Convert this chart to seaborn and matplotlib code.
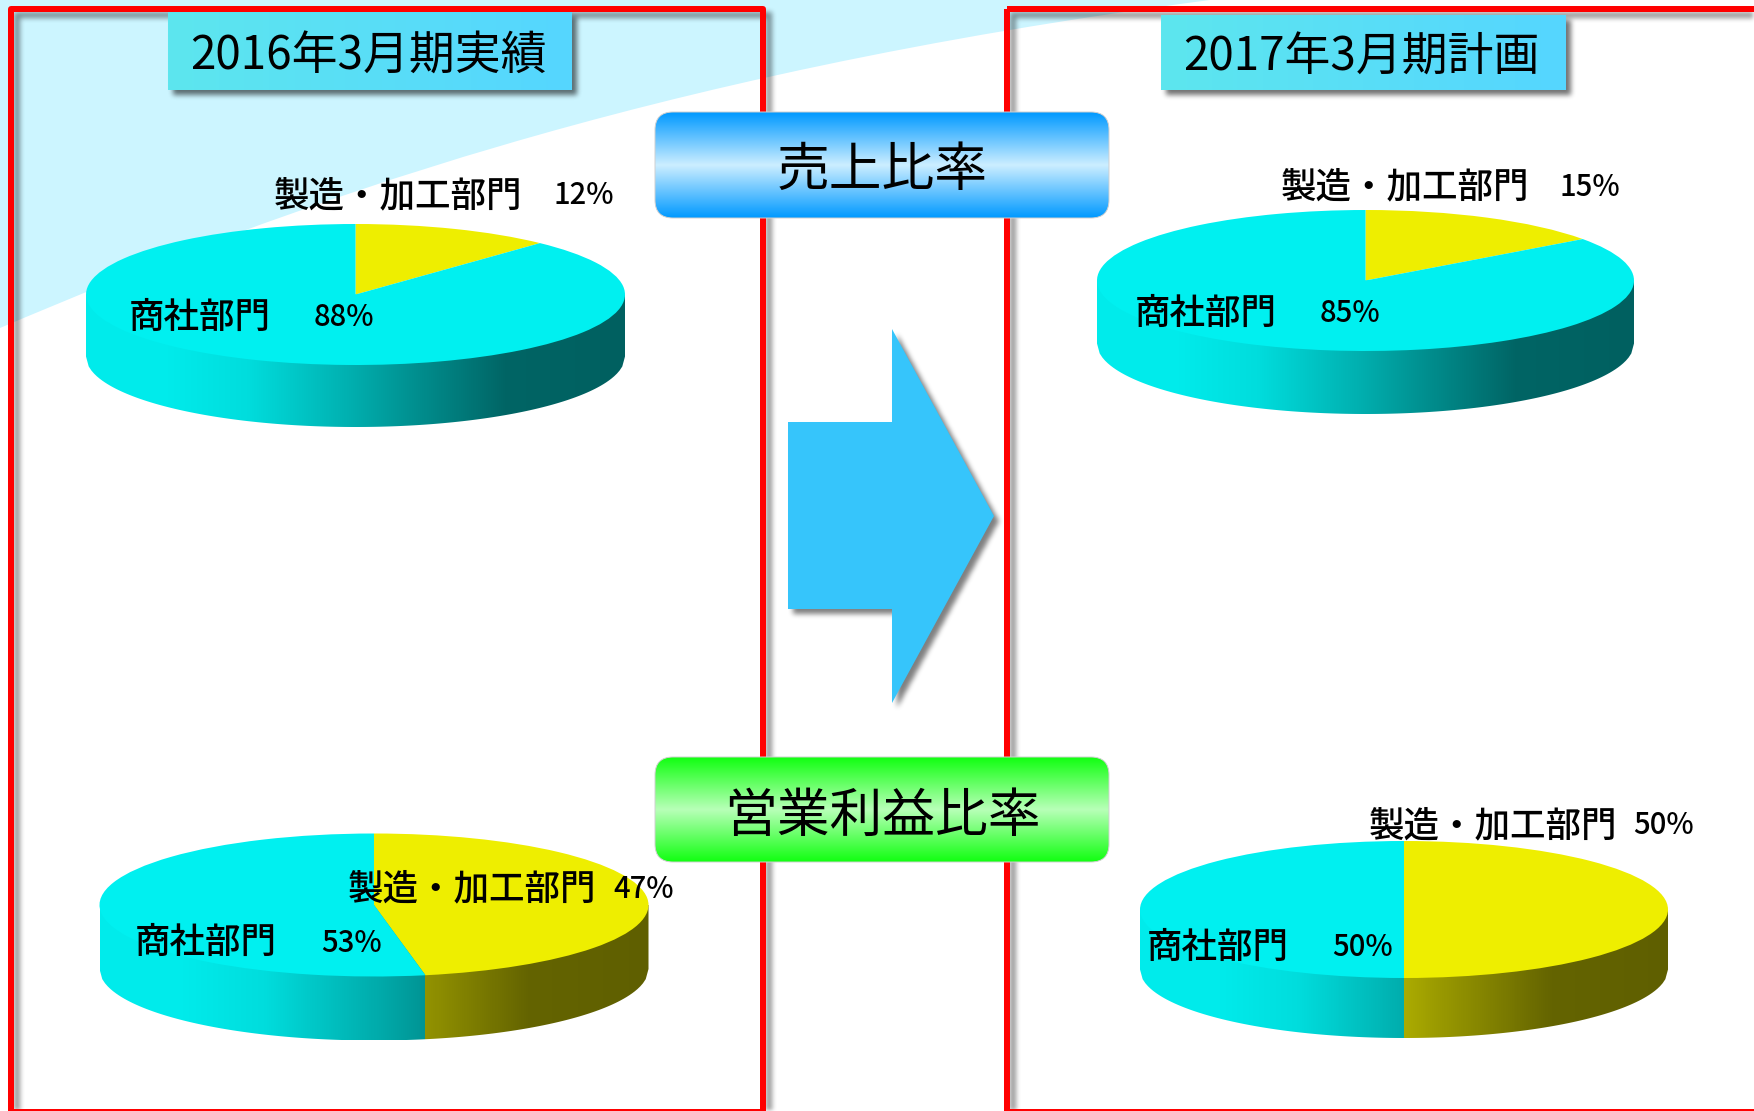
#!/usr/bin/env python3
# -*- coding: utf-8 -*-
"""売上比率 / 営業利益比率 の比較 (2016年3月期実績 -> 2017年3月期計画)"""

import numpy as np
import matplotlib
matplotlib.use("Agg")
import matplotlib.pyplot as plt
import seaborn as sns
from matplotlib.colors import to_rgb
from matplotlib.path import Path
from matplotlib.patches import PathPatch, FancyBboxPatch, Polygon

# --- Daten ---
periods = ["2016年3月期実績", "2017年3月期計画"]
metrics = ["売上比率", "営業利益比率"]
segments = ["製造・加工部門", "商社部門"]

sales_manufacturing = [12, 15]
sales_trading = [88, 85]
profit_manufacturing = [47, 50]
profit_trading = [53, 50]

W, H = 1754, 1111
CJK = ["Noto Sans CJK JP", "DejaVu Sans"]

# --- Layout (Pixel im Bild) ---
# Torten: cx, cy, a, b, Tiefe
PIE_BOXES = [
    (355.5, 294.5, 269.5, 70.5, 62),
    (1365.5, 280.5, 268.5, 70.5, 63),
    (374.0, 905.0, 274.5, 71.5, 64),
    (1404.0, 909.5, 264.0, 68.5, 60),
]
# Beschriftung: Name x, Prozent x, y jeweils für Segment 0 und 1
LABEL_POS = [
    ((274, 553, 196), (129, 314, 318)),
    ((1281, 1559, 187), (1135, 1320, 314)),
    ((348, 613, 889), (135, 321, 943)),
    ((1369, 1633, 826), (1147, 1332, 948)),
]
CYAN = "#00F0F0"
YELLOW = "#EEEE00"
SIDE_T = [0.0, 0.15, 0.30, 0.50, 0.59, 0.78, 1.0]
SIDE_F = [0.98, 0.98, 0.92, 0.72, 0.62, 0.42, 0.40]


def box_blur(mask, size=5, passes=3):
    """Einfacher Weichzeichner, ohne scipy."""
    kernel = np.ones(size) / size
    out = mask.astype(float)
    for _ in range(passes):
        out = np.apply_along_axis(lambda r: np.convolve(r, kernel, mode="same"), 0, out)
        out = np.apply_along_axis(lambda r: np.convolve(r, kernel, mode="same"), 1, out)
    return out


def soft_shadow(ax, polys, dx=5, dy=5, alpha=0.45):
    """Schatten aus einem oder mehreren Polygonen (XOR), gerastert und geglättet."""
    all_pts = np.vstack(polys)
    x0 = int(max(all_pts[:, 0].min() + dx - 16, 0))
    x1 = int(min(all_pts[:, 0].max() + dx + 16, W))
    y0 = int(max(all_pts[:, 1].min() + dy - 16, 0))
    y1 = int(min(all_pts[:, 1].max() + dy + 16, H))
    xx, yy = np.meshgrid(np.arange(x0, x1) + 0.5, np.arange(y0, y1) + 0.5)
    grid = np.c_[xx.ravel(), yy.ravel()]
    mask = np.zeros(xx.shape, dtype=bool)
    for poly in polys:
        inside = Path(np.asarray(poly) + [dx, dy]).contains_points(grid).reshape(xx.shape)
        mask ^= inside
    blurred = box_blur(mask)
    rgba = np.zeros(mask.shape + (4,))
    rgba[..., 3] = blurred * alpha
    ax.imshow(rgba, extent=(x0, x1, y1, y0), aspect="auto", zorder=2, interpolation="bilinear")
    ax.set_xlim(0, W)
    ax.set_ylim(H, 0)


def gradient(ax, extent, colors, clip, vertical=False, zorder=4):
    cmap = sns.blend_palette(colors, as_cmap=True)
    grad = np.linspace(0, 1, 256)
    grad = grad[:, None] if vertical else grad[None, :]
    im = ax.imshow(grad, extent=extent, cmap=cmap, aspect="auto", zorder=zorder,
                   interpolation="bilinear", vmin=0, vmax=1)
    im.set_clip_path(clip)
    ax.set_xlim(0, W)
    ax.set_ylim(H, 0)


def draw_background(ax):
    # hellblaue Fläche oben links
    verts = [(0, 0), (0, 328), (290, 205), (640, 75), (1210, 0), (0, 0)]
    codes = [Path.MOVETO, Path.LINETO, Path.CURVE4, Path.CURVE4, Path.CURVE4, Path.CLOSEPOLY]
    ax.add_patch(PathPatch(Path(verts, codes), fc="#CCF5FF", ec="none", zorder=1))


def draw_frame(ax, x0, x1, y0=9, y1=1112):
    corners = [(x0, y0), (x1, y0), (x1, y1), (x0, y1)]
    lw = 3
    outer = np.array([(x0 - lw, y0 - lw), (x1 + lw, y0 - lw), (x1 + lw, y1 + lw), (x0 - lw, y1 + lw)])
    inner = np.array([(x0 + lw, y0 + lw), (x1 - lw, y0 + lw), (x1 - lw, y1 - lw), (x0 + lw, y1 - lw)])
    soft_shadow(ax, [outer, inner], dx=6, dy=6, alpha=0.42)
    ax.add_patch(Polygon(corners, closed=True, fill=False, ec="#FF0000", lw=6 * 0.72,
                         joinstyle="round", zorder=3))


def draw_header(ax, text, x0, x1, y0, y1):
    corners = np.array([(x0, y0), (x1, y0), (x1, y1), (x0, y1)])
    soft_shadow(ax, [corners], dx=5, dy=5, alpha=0.55)
    box = Polygon(corners, closed=True, fc="none", ec="none", zorder=4)
    ax.add_patch(box)
    gradient(ax, (x0, x1, y1, y0), ["#5DE6EE", "#55D6FF"], box)
    ax.text((x0 + x1) / 2 - 2, (y0 + y1) / 2 + 5, text, family=CJK, fontsize=33, color="black",
            ha="center", va="center", zorder=6)


def draw_banner(ax, text, x0, x1, y0, y1, edge, mid, dy=5):
    r = 18
    box = FancyBboxPatch((x0 + r, y0 + r), x1 - x0 - 2 * r, y1 - y0 - 2 * r,
                         boxstyle=f"round,pad={r},rounding_size={r}",
                         fc="none", ec="#D0D0D0", lw=0.7, zorder=5)
    ax.add_patch(box)
    gradient(ax, (x0, x1, y1, y0), [edge, mid, edge], box, vertical=True, zorder=4)
    ax.text((x0 + x1) / 2, (y0 + y1) / 2 + 2 + dy, text, family=CJK, fontsize=38, color="black",
            ha="center", va="center", zorder=6)


def draw_arrow(ax):
    pts = np.array([(788, 422), (892, 422), (892, 329), (994, 516), (892, 703), (892, 609), (788, 609)])
    soft_shadow(ax, [pts], dx=5, dy=5, alpha=0.5)
    ax.add_patch(Polygon(pts, closed=True, fc="#36C5FB", ec="none", zorder=4))


def draw_pie(fig, box, shares):
    cx, cy, a, b, depth = box
    d = depth / b
    left = (cx - a) / W
    bottom = 1 - (cy + b + depth) / H
    ax = fig.add_axes([left, bottom, 2 * a / W, (2 * b + depth) / H], zorder=1)
    ax.patch.set_alpha(0)

    # Seitenwand: Spaltenweise Farbe je nach Segment und Helligkeit
    x = np.linspace(-1, 1, 540)
    theta = np.where(x >= 0, 180 - np.degrees(np.arcsin(x)), 180 + np.degrees(np.arcsin(-x)))
    is_first = theta < shares[0] / sum(shares) * 360
    shade = np.interp((x + 1) / 2, SIDE_T, SIDE_F)
    base = np.array([to_rgb(YELLOW) if f else to_rgb(CYAN) for f in is_first])
    rgb = (base * shade[:, None])[None, :, :]
    im = ax.imshow(rgb, extent=(-1, 1, -1 - d, 1), aspect="auto", zorder=1,
                   interpolation="nearest")
    arc = np.linspace(-1, 1, 200)
    low = -np.sqrt(np.clip(1 - arc ** 2, 0, 1))
    # obere Kante gerade, die Oberseite liegt ohnehin darüber
    outline = np.r_[np.c_[arc, low - d], [(1, 0), (-1, 0)]]
    clip = Polygon(outline, closed=True, transform=ax.transData, fc="none", ec="none")
    ax.add_patch(clip)
    im.set_clip_path(clip)

    # Oberseite
    wedges, _ = ax.pie(shares, colors=[YELLOW, CYAN], startangle=90, counterclock=False,
                       radius=1, wedgeprops={"linewidth": 0})
    for w in wedges:
        w.set_zorder(2)
    ax.set_aspect("auto")
    ax.set_xlim(-1, 1)
    ax.set_ylim(-1 - d, 1)
    ax.axis("off")
    return ax


def main():
    sns.set_theme(style="white")
    plt.rcParams["font.family"] = CJK

    fig = plt.figure(figsize=(W / 100, H / 100), dpi=100, facecolor="white")
    ax = fig.add_axes([0, 0, 1, 1], zorder=0)
    ax.set_xlim(0, W)
    ax.set_ylim(H, 0)
    ax.axis("off")

    draw_background(ax)
    draw_frame(ax, 11, 763)
    draw_frame(ax, 1007, 1775)
    draw_header(ax, periods[0], 168, 572, 12, 90)
    draw_header(ax, periods[1], 1161, 1566, 15, 90)
    draw_banner(ax, metrics[0], 655, 1109, 112, 218, "#0099FF", "#CCEEFF", dy=3)
    draw_banner(ax, metrics[1], 655, 1109, 757, 862, "#11FF11", "#B8FFB8", dy=5)
    draw_arrow(ax)

    all_shares = [
        (sales_manufacturing[0], sales_trading[0]),
        (sales_manufacturing[1], sales_trading[1]),
        (profit_manufacturing[0], profit_trading[0]),
        (profit_manufacturing[1], profit_trading[1]),
    ]
    for box, shares in zip(PIE_BOXES, all_shares):
        draw_pie(fig, box, shares)

    # Beschriftungen über den Torten
    top = fig.add_axes([0, 0, 1, 1], zorder=3)
    top.set_xlim(0, W)
    top.set_ylim(H, 0)
    top.axis("off")
    for shares, pos in zip(all_shares, LABEL_POS):
        for name, share, (xn, xp, y) in zip(segments, shares, pos):
            top.text(xn, y, name, family=CJK, fontsize=25.6, fontweight="medium",
                     ha="left", va="center", color="black")
            top.text(xp, y, f"{share}%", family=CJK, fontsize=21, fontweight="medium",
                     ha="left", va="center", color="black")

    fig.savefig("out.png", dpi=100)


if __name__ == "__main__":
    main()
